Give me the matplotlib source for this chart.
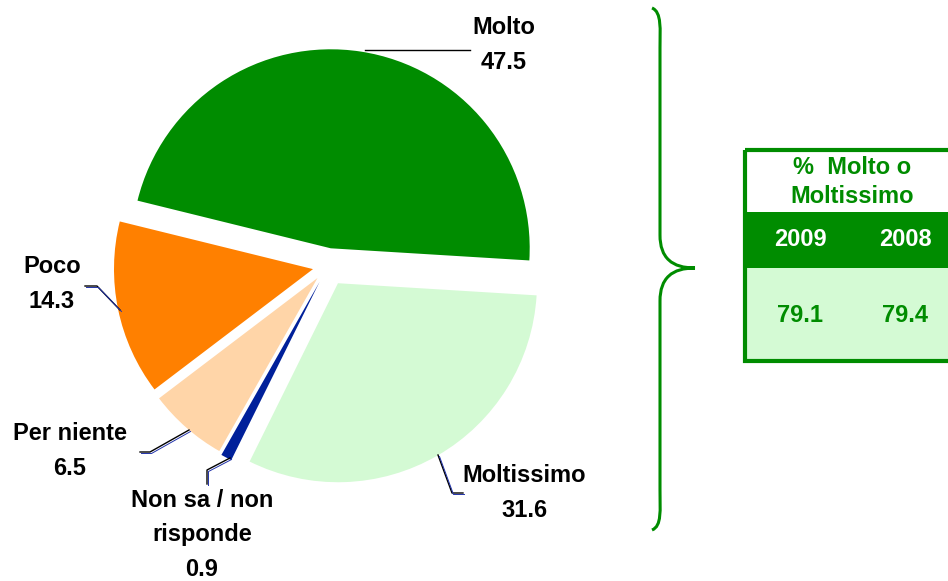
import matplotlib.pyplot as plt
import matplotlib as mpl
from matplotlib.patches import Rectangle, PathPatch
from matplotlib.path import Path

plt.rcParams['font.family'] = ['Liberation Sans', 'DejaVu Sans']

# pie data, in drawing order (clockwise from the right)
labels = ["Moltissimo", "Non sa / non\nrisponde", "Per niente", "Poco", "Molto"]
values = [31.6, 0.9, 6.5, 14.3, 47.5]
colors = ["#D4FAD4", "#00209A", "#FFD5A8", "#FF8000", "#008C00"]
explode = [0.10, 0.09, 0.08, 0.077, 0.09]

# side table
table_title = "%  Molto o\nMoltissimo"
years = ["2009", "2008"]
share_values = [79.1, 79.4]

W, H = 948, 581
fig = plt.figure(figsize=(W / 100, H / 100), dpi=100)

# pie axes: 1 unit = 199 px, centre at pixel (328, 266)
cx, cy, r = 328, 266, 199
ax = fig.add_axes([0, 0, 1, 1])
ax.pie(values, colors=colors, explode=explode, startangle=-3.5,
       counterclock=False, wedgeprops=dict(linewidth=0))
ax.set_aspect('auto')
ax.set_xlim(-cx / r, (W - cx) / r)
ax.set_ylim((cy - H) / r, cy / r)
ax.axis('off')

# overlay in pixel coordinates for labels, brace and table
ov = fig.add_axes([0, 0, 1, 1])
ov.set_xlim(0, W)
ov.set_ylim(H, 0)
ov.axis('off')
ov.patch.set_alpha(0)

txt = dict(fontsize=17, fontweight='bold', ha='center', va='center', color='black')
label_pos = [(524, 493), (202, 535), (70, 451), (52, 284), (504, 45)]
for lab, val, (x, y) in zip(labels, values, label_pos):
    ov.text(x, y, f"{lab}\n{val}", linespacing=1.65, **txt)

leaders = [
    [(438, 455), (452, 493), (463, 493)],
    [(207, 484), (207, 470), (230, 458)],
    [(140, 452), (150, 452), (189, 430)],
    [(85, 286), (97, 286), (120, 310)],
    [(365, 50), (470, 50)],
]
for pts in leaders:
    xs, ys = zip(*pts)
    ov.plot(xs, ys, color='black', lw=1)
    if len(pts) > 2:
        ov.plot([x + 1.5 for x in xs], [y + 1.5 for y in ys], color='#2233AA', lw=0.7)

# curly brace
verts = [(652, 8), (662, 12), (660, 30), (660, 48),
         (660, 235),
         (660, 258), (672, 268), (695, 268),
         (672, 268), (660, 278), (660, 301),
         (660, 490),
         (660, 510), (662, 526), (652, 530)]
codes = [Path.MOVETO, Path.CURVE4, Path.CURVE4, Path.CURVE4,
         Path.LINETO,
         Path.CURVE4, Path.CURVE4, Path.CURVE4,
         Path.CURVE4, Path.CURVE4, Path.CURVE4,
         Path.LINETO,
         Path.CURVE4, Path.CURVE4, Path.CURVE4]
ov.add_patch(PathPatch(Path(verts, codes), fill=False, edgecolor='#008C00', lw=2.2))

# table
green, light = '#008C00', '#D4FAD4'
ov.add_patch(Rectangle((745, 212), 210, 56, facecolor=green, edgecolor='none'))
ov.add_patch(Rectangle((745, 268), 210, 93, facecolor=light, edgecolor='none'))
ov.add_patch(Rectangle((745, 150), 210, 211, facecolor='none', edgecolor=green, lw=3))
ov.text(852, 182, table_title, fontsize=17, fontweight='bold', ha='center',
        va='center', color=green, linespacing=1.3)
for x, yr, v in zip([800, 905], years, share_values):
    ov.text(x, 240, yr, fontsize=17, fontweight='bold', ha='center', va='center', color='white')
    ov.text(x, 315, f"{v}", fontsize=17, fontweight='bold', ha='center', va='center', color=green)

fig.savefig('out.png', dpi=100)
